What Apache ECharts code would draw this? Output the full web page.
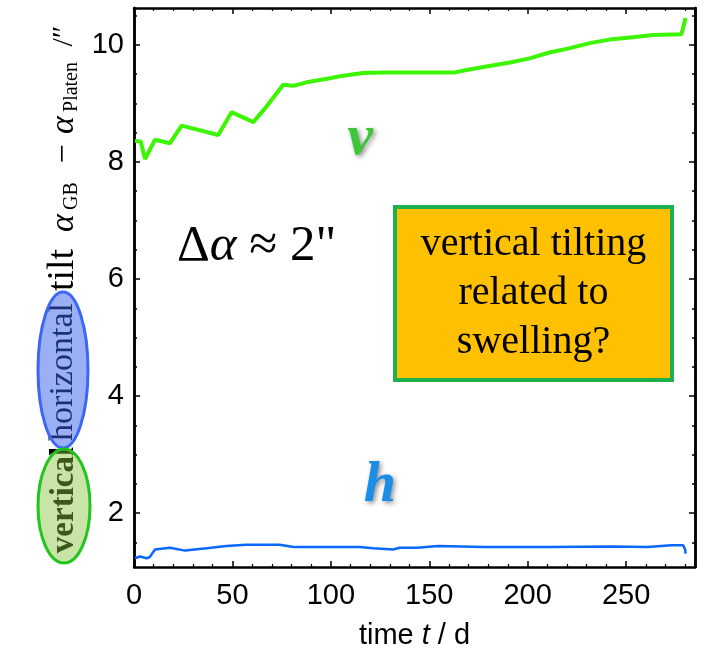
<!DOCTYPE html>
<html>
<head>
<meta charset="utf-8">
<script src="https://cdn.jsdelivr.net/npm/echarts@6/dist/echarts.min.js"></script>
<style>
  html, body { margin: 0; padding: 0; background: #fff; }
  #chart { width: 704px; height: 656px; }
</style>
</head>
<body>
<div id="chart"></div>
<script>
// vertical tilt (v), in arc seconds, against time in days
const tV = [0.5, 3.4, 5.6, 10.7, 18.3, 24.2, 42.8, 49.6, 60.6, 67.4, 75.8, 80.9, 87.7, 99.5, 105.4, 116.4, 126.5, 145, 163, 169, 179, 191, 201, 211, 221, 231.5, 241.6, 253.4, 263.6, 278, 278.8, 280.2];
const vTilt = [8.36, 8.35, 8.05, 8.38, 8.32, 8.62, 8.46, 8.85, 8.68, 8.95, 9.32, 9.30, 9.36, 9.43, 9.47, 9.52, 9.53, 9.53, 9.53, 9.57, 9.63, 9.70, 9.77, 9.87, 9.94, 10.03, 10.09, 10.13, 10.17, 10.18, 10.27, 10.46];

// horizontal tilt (h)
const tH = [0.5, 3, 6.4, 8, 10.7, 18.3, 25.9, 36.9, 47, 57, 74, 81, 114.7, 121.5, 131.6, 135, 144, 154.5, 178, 212, 242, 261, 273, 279, 280, 280.2];
const hTilt = [1.23, 1.26, 1.23, 1.25, 1.38, 1.41, 1.36, 1.40, 1.44, 1.46, 1.46, 1.42, 1.42, 1.40, 1.38, 1.41, 1.41, 1.44, 1.42, 1.42, 1.43, 1.42, 1.45, 1.45, 1.38, 1.31];

// axis ranges and ticks
const xRange = [0, 285];
const yRange = [1.08, 10.63];
const xTickStep = 50;
const yMajorTicks = [2, 4, 6, 8, 10];
const yMinorTicks = [1.5, 2.5, 3, 3.5, 4.5, 5, 5.5, 6.5, 7, 7.5, 8.5, 9, 9.5, 10.5];

const pairs = (xs, ys) => xs.map((x, i) => [x, ys[i]]);

const sans = '"Liberation Sans", Arial, sans-serif';
const serif = '"Liberation Serif", "Times New Roman", serif';
const frame = { show: true, lineStyle: { color: '#000', width: 2.5 } };

function xAxisDef(pos, labels) {
  return {
    type: 'value', position: pos, min: xRange[0], max: xRange[1], interval: xTickStep,
    axisLine: frame,
    axisTick: { show: true, inside: true, length: 6, lineStyle: { color: '#000', width: 1.5 } },
    minorTick: { show: true, splitNumber: 5, length: 3, lineStyle: { color: '#000', width: 1.2 } },
    splitLine: { show: false },
    axisLabel: { show: labels, margin: 14, color: '#000', fontSize: 29, fontFamily: sans,
      showMinLabel: true, showMaxLabel: false }
  };
}

function yAxisDef(pos, ticks, len, labels) {
  return {
    type: 'value', position: pos, min: yRange[0], max: yRange[1],
    axisLine: frame,
    axisTick: { show: true, inside: true, length: len, customValues: ticks,
      lineStyle: { color: '#000', width: 1.5 } },
    splitLine: { show: false },
    axisLabel: { show: labels, customValues: ticks, margin: 10, color: '#000',
      fontSize: 29, fontFamily: sans }
  };
}

const chart = echarts.init(document.getElementById('chart'), null, { renderer: 'canvas' });

const option = {
  animation: false,
  backgroundColor: '#fff',
  grid: { left: 134, right: 9, top: 8, bottom: 89, containLabel: false, outerBoundsMode: 'none' },
  xAxis: [
    Object.assign(xAxisDef('bottom', true), {
      name: 'time {i|t} / d', nameLocation: 'middle', nameGap: 54,
      nameTextStyle: { color: '#000', fontSize: 29, fontFamily: sans,
        rich: { i: { fontStyle: 'italic', fontSize: 29, fontFamily: sans, color: '#000' } } }
    }),
    xAxisDef('top', false)
  ],
  yAxis: [
    yAxisDef('left', yMajorTicks, 6, true),
    yAxisDef('left', yMinorTicks, 3, false),
    yAxisDef('right', yMajorTicks, 6, false),
    yAxisDef('right', yMinorTicks, 3, false)
  ],
  series: [
    {
      name: 'v', type: 'line', data: pairs(tV, vTilt), showSymbol: false,
      lineStyle: { color: '#3cf500', width: 4 }, z: 3
    },
    {
      name: 'h', type: 'line', data: pairs(tH, hTilt), showSymbol: false,
      lineStyle: { color: '#0a68ff', width: 2.5 }, z: 3
    }
  ],
  graphic: [
    // axis title, written bottom-to-top
    { type: 'text', x: 64, y: 500, rotation: Math.PI / 2, z: 10,
      style: { text: 'vertical', font: 'bold 33px ' + serif, fill: '#000', align: 'center', verticalAlign: 'middle' } },
    { type: 'text', x: 63, y: 372, rotation: Math.PI / 2, z: 10,
      style: { text: 'horizontal', font: '34px ' + serif, fill: '#000', align: 'center', verticalAlign: 'middle' } },
    { type: 'text', x: 63, y: 270, rotation: Math.PI / 2, z: 10,
      style: { text: 'tilt', font: '38px ' + serif, fill: '#000', align: 'center', verticalAlign: 'middle' } },
    { type: 'text', x: 64, y: 223, rotation: Math.PI / 2, z: 10,
      style: { text: 'α', font: 'italic 34px ' + serif, fill: '#000', align: 'center', verticalAlign: 'middle' } },
    { type: 'text', x: 72, y: 196, rotation: Math.PI / 2, z: 10,
      style: { text: 'GB', font: '20px ' + serif, fill: '#000', align: 'center', verticalAlign: 'middle' } },
    { type: 'text', x: 64, y: 154, rotation: Math.PI / 2, z: 10,
      style: { text: '−', font: '34px ' + serif, fill: '#000', align: 'center', verticalAlign: 'middle' } },
    { type: 'text', x: 64, y: 125, rotation: Math.PI / 2, z: 10,
      style: { text: 'α', font: 'italic 34px ' + serif, fill: '#000', align: 'center', verticalAlign: 'middle' } },
    { type: 'text', x: 72, y: 87, rotation: Math.PI / 2, z: 10,
      style: { text: 'Platen', font: '20px ' + serif, fill: '#000', align: 'center', verticalAlign: 'middle' } },
    { type: 'text', x: 64, y: 36, rotation: Math.PI / 2, z: 10,
      style: { text: '/″', font: '30px ' + serif, fill: '#000', align: 'center', verticalAlign: 'middle' } },

    // translucent highlight ellipses over the axis title
    { type: 'ellipse', z: 20, shape: { cx: 63, cy: 370, rx: 25, ry: 78 },
      style: { fill: 'rgba(55, 95, 235, 0.5)', stroke: '#3d66f5', lineWidth: 3 } },
    { type: 'ellipse', z: 20, shape: { cx: 64, cy: 506, rx: 26, ry: 57 },
      style: { fill: 'rgba(135, 195, 60, 0.45)', stroke: '#22c41e', lineWidth: 3 } },

    // curve labels
    { type: 'text', x: 360, y: 139, z: 30,
      style: { text: 'v', font: 'italic bold 58px ' + serif, fill: '#3ec63a', align: 'center', verticalAlign: 'middle',
        textShadowColor: 'rgba(0,0,0,0.45)', textShadowBlur: 5, textShadowOffsetX: 2, textShadowOffsetY: 2 } },
    { type: 'text', x: 380, y: 486, z: 30,
      style: { text: 'h', font: 'italic bold 58px ' + serif, fill: '#1a8ee6', align: 'center', verticalAlign: 'middle',
        textShadowColor: 'rgba(0,0,0,0.45)', textShadowBlur: 5, textShadowOffsetX: 2, textShadowOffsetY: 2 } },

    // spread between the two tilts
    { type: 'text', x: 177, y: 247, z: 30,
      style: { text: 'Δ{a|α} ≈ 2"', font: '51px ' + serif, fill: '#000', align: 'left', verticalAlign: 'middle',
        rich: { a: { fontStyle: 'italic', fontSize: 51, fontFamily: serif, fill: '#000' } } } },

    // note box
    { type: 'rect', z: 30, shape: { x: 395, y: 207, width: 277, height: 173 },
      style: { fill: '#ffc000', stroke: '#1db04e', lineWidth: 4 } },
    { type: 'text', x: 533.5, y: 293, z: 31,
      style: { text: 'vertical tilting\nrelated to\nswelling?', font: '40px ' + serif, lineHeight: 49,
        fill: '#000', align: 'center', verticalAlign: 'middle' } }
  ]
};

chart.setOption(option);
</script>
</body>
</html>
